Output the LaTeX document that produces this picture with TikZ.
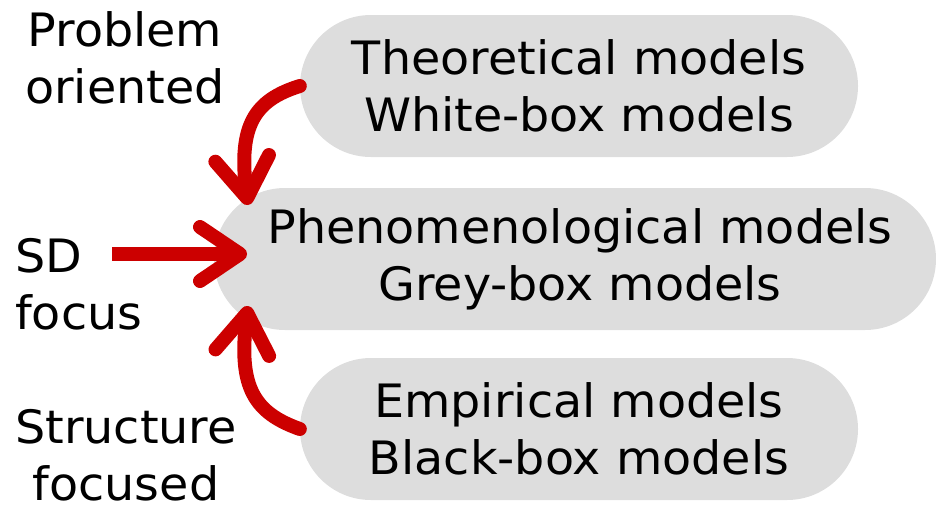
\documentclass[tikz,border=0pt]{standalone}
\usepackage{fontspec}
\setmainfont[FakeStretch=1.035]{DejaVu Sans}
\usepackage{tikz}
\usetikzlibrary{arrows.meta,positioning}
\definecolor{pillbg}{RGB}{221,221,221}
\definecolor{flowred}{RGB}{204,0,0}

\begin{document}
\begin{tikzpicture}[x=1pt,y=-1pt,
          pill/.style={fill=pillbg,rounded corners=71pt,
                       minimum height=142pt,align=center,inner sep=0pt,
                       font=\fontsize{46}{57}\selectfont},
          lbl/.style={inner sep=0pt,font=\fontsize{46}{57}\selectfont},
          flow/.style={line width=14pt,flowred,line cap=round,
                       -{Straight Barb[length=40pt,width=54pt,round]}}]
  \useasboundingbox (0,0) rectangle (936,506);
  % model boxes
  \node[pill,minimum width=558pt] (theory) at (579,86)
    {Theoretical models\\White-box models};
  \node[pill,minimum width=722pt] (pheno) at (575,259)
    {\hspace*{10pt}Phenomenological models\\\hspace*{10pt}Grey-box models};
  \node[pill,minimum width=558pt] (empir) at (579,429)
    {Empirical models\\Black-box models};
  % side labels
  \node[lbl,align=center] (probl) at (125,58) {Problem\\oriented};
  \node[lbl,align=left,anchor=west] (sdfoc) at (15,284) {SD\\focus};
  \node[lbl,align=center] (struc) at (126,455) {Structure\\focused};
  % arrow ends
  \coordinate (toptip) at (248,205);
  \coordinate (midtip) at (247,254);
  \coordinate (bottip) at (248,306);
  \coordinate (sdtail) at (112,254);
  \draw[flow] (theory.west) .. controls (255,100) and (238,125) .. (toptip);
  \draw[flow,line cap=butt] (sdtail) -- (midtip);
  \draw[flow] (empir.west) .. controls (255,413) and (238,388) .. (bottip);
\end{tikzpicture}
\end{document}
